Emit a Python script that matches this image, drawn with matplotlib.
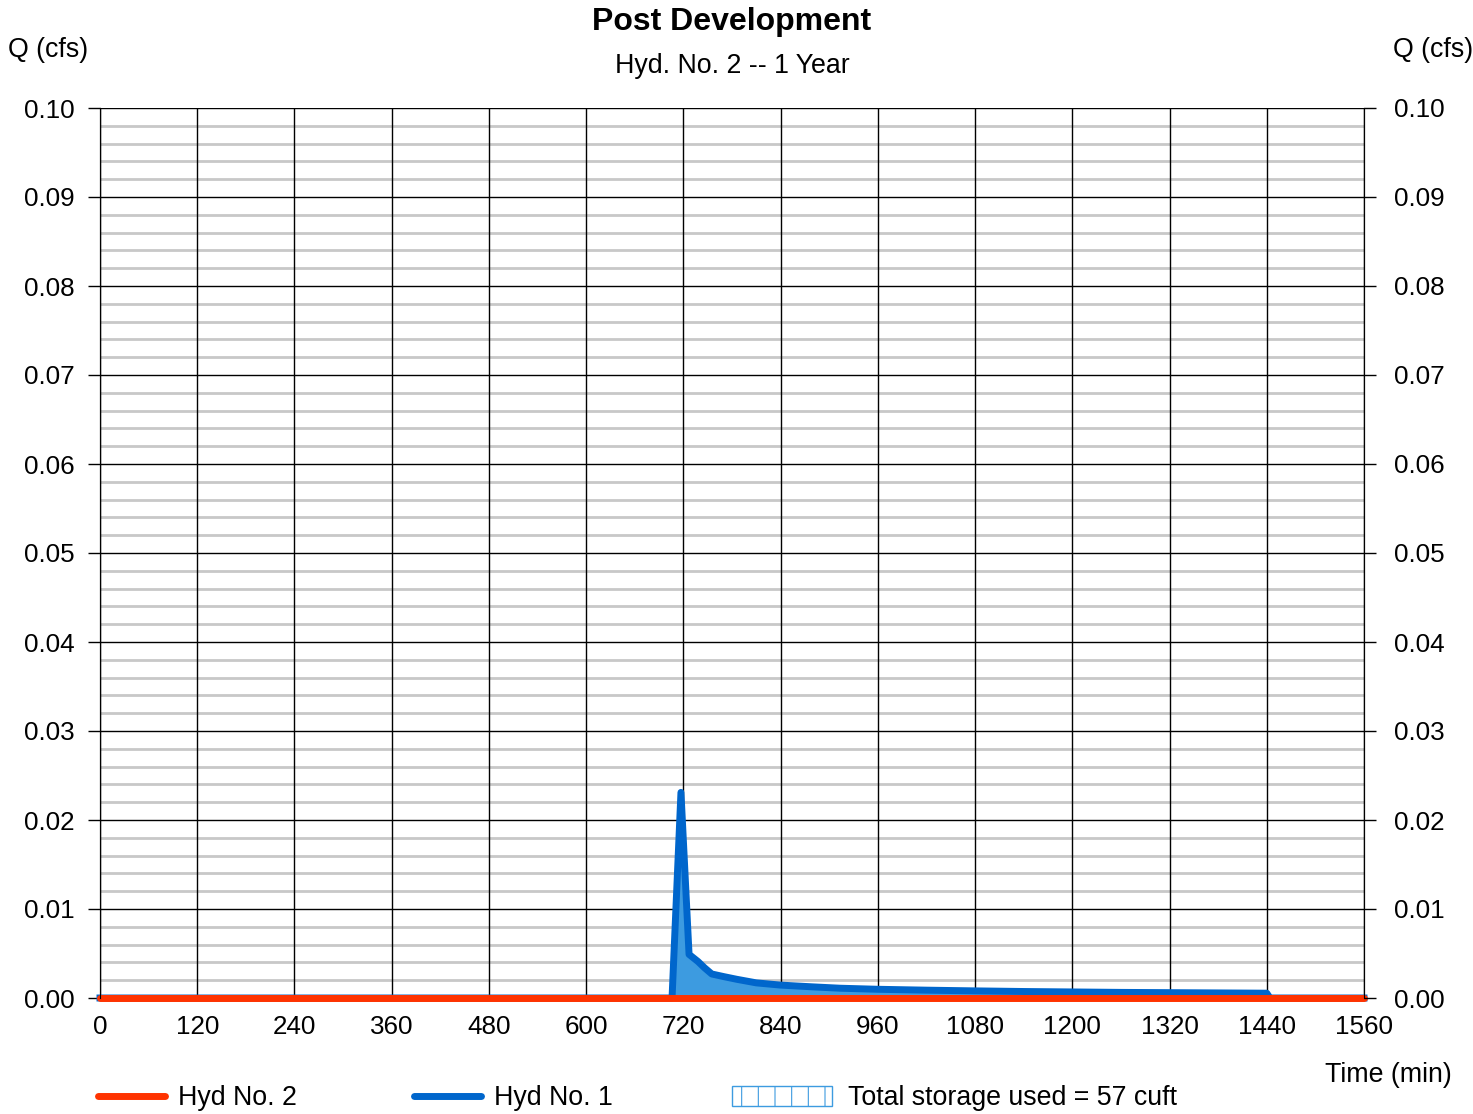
import numpy as np
import matplotlib.pyplot as plt
from matplotlib.patches import Rectangle
from matplotlib.lines import Line2D

plt.rcParams['font.family'] = ['Liberation Sans', 'DejaVu Sans']

# Hyd No. 1 (inflow)
t1 = [0, 706, 717, 727, 738, 746, 755, 770, 786, 810, 840, 880, 913, 960, 1020, 1080, 1140, 1200, 1260, 1320, 1380, 1440, 1444, 1560]
q1 = [0, 0, 0.0231, 0.0049, 0.0041, 0.0034, 0.0027, 0.0024, 0.0021, 0.0017, 0.00145, 0.00125, 0.0011, 0.00098, 0.00088, 0.0008, 0.00073, 0.00068, 0.00063, 0.0006, 0.00057, 0.00054, 0, 0]
# Hyd No. 2 (outflow)
t2 = [0, 1560]
q2 = [0, 0]

xticks = np.arange(0, 1561, 120)
yticks = np.arange(0, 0.1001, 0.01)

fs = 19.3
tfs = 18.7
fig = plt.figure(figsize=(14.73, 11.14), dpi=100)
ax = fig.add_axes([100/1473, 1-998/1114, 1264/1473, 890/1114])

# grid
for y in np.arange(0, 0.1001, 0.002):
    if round(y*1000) % 10 != 0:
        ax.axhline(y, color='#c8c8c8', lw=2, zorder=0)
for y in yticks:
    ax.axhline(y, color='black', lw=1, zorder=1)
for x in xticks:
    ax.axvline(x, color='black', lw=1, zorder=1)

ax.fill_between(t1, q1, 0, color='#3d9be0', lw=0, zorder=2)
ax.plot(t1, q1, color='#0066cc', lw=5, solid_joinstyle='round', zorder=3, clip_on=False)
ax.plot(t2, q2, color='#ff3300', lw=5, solid_capstyle='round', zorder=4, clip_on=False)

ax.set_xlim(0, 1560)
ax.set_ylim(0, 0.10)
ax.set_xticks(xticks)
ax.set_xticklabels([str(x) for x in xticks], fontsize=tfs)
ax.set_yticks(yticks)
ax.set_yticklabels(['%.2f' % y for y in yticks], fontsize=tfs)
ax.tick_params(axis='x', length=0, pad=12)
ax.tick_params(axis='y', length=8.6, width=1, pad=10)
for s in ['top', 'bottom']:
    ax.spines[s].set_visible(False)

axr = ax.twinx()
axr.set_ylim(0, 0.10)
axr.set_yticks(yticks)
axr.set_yticklabels(['%.2f' % y for y in yticks], fontsize=tfs)
axr.tick_params(axis='y', length=8.6, width=1, pad=13)
for s in ['top', 'bottom']:
    axr.spines[s].set_visible(False)

fig.text(732/1473, 1-22/1114, 'Post Development', ha='center', va='center', fontsize=23, fontweight='bold')
fig.text(732/1473, 1-66/1114, 'Hyd. No. 2 -- 1 Year', ha='center', va='center', fontsize=fs)
fig.text(8/1473, 1-50/1114, 'Q (cfs)', ha='left', va='center', fontsize=fs)
fig.text(1473/1473, 1-50/1114, 'Q (cfs)', ha='right', va='center', fontsize=fs)
fig.text(1452/1473, 1-1075/1114, 'Time (min)', ha='right', va='center', fontsize=fs)

# legend
ly = 1 - 1096/1114
fig.add_artist(Line2D([98/1473, 165/1473], [ly, ly], color='#ff3300', lw=5, solid_capstyle='round'))
fig.text(178/1473, 1-1098/1114, 'Hyd No. 2', ha='left', va='center', fontsize=fs)
fig.add_artist(Line2D([414/1473, 481/1473], [ly, ly], color='#0066cc', lw=5, solid_capstyle='round'))
fig.text(494/1473, 1-1098/1114, 'Hyd No. 1', ha='left', va='center', fontsize=fs)
plt.rcParams['hatch.linewidth'] = 0.8
fig.add_artist(Rectangle((732/1473, 1-1106/1114), 100/1473, 20/1114, facecolor='white',
                         edgecolor='#3d9be0', hatch='|', lw=1))
fig.text(848/1473, 1-1098/1114, 'Total storage used = 57 cuft', ha='left', va='center', fontsize=fs)

fig.savefig('out.png', dpi=100)
